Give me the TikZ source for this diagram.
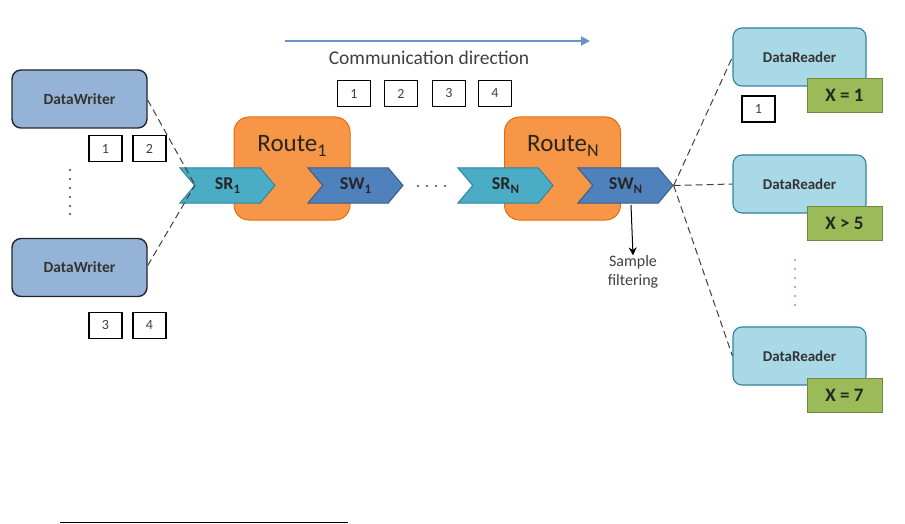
\documentclass[tikz,border=0pt]{standalone}
\usepackage{fontspec}
\setmainfont{Carlito}
\usetikzlibrary{shapes.symbols,arrows.meta}
\definecolor{dwfill}{HTML}{95B3D7}
\definecolor{srfill}{HTML}{4BACC6}
\definecolor{srline}{HTML}{31849B}
\definecolor{swfill}{HTML}{4F81BD}
\definecolor{swline}{HTML}{385D8A}
\definecolor{rtfill}{HTML}{F79646}
\definecolor{rtline}{HTML}{E46C0A}
\definecolor{drfill}{HTML}{A9D8E6}
\definecolor{drline}{HTML}{31849B}
\definecolor{gnfill}{HTML}{9BBB59}
\definecolor{gnline}{HTML}{71893F}
\definecolor{txt}{HTML}{404040}
\newcommand\mysub[1]{\raisebox{-0.4ex}{\scalebox{0.72}{#1}}}
\begin{document}
\begin{tikzpicture}[x=1pt,y=-1pt,
  writer/.style={draw=black!85,line width=1.4pt,fill=dwfill,rounded corners=9pt,minimum width=135pt,minimum height=58pt,font=\fontsize{15.5}{17}\selectfont\bfseries,text=black!80,inner sep=0pt},
  reader/.style={draw=drline,line width=1.1pt,fill=drfill,rounded corners=9pt,minimum width=133pt,minimum height=58pt,font=\fontsize{15}{17}\selectfont\bfseries,text=black!80,inner sep=0pt},
  filt/.style={draw=gnline,line width=1pt,fill=gnfill,minimum width=75pt,minimum height=34pt,font=\fontsize{19}{21}\selectfont\bfseries,text=black!85,inner sep=0pt},
  sample/.style={draw=black,line width=1.3pt,fill=white,minimum width=33pt,minimum height=26pt,font=\fontsize{14}{16}\selectfont,text=txt,inner sep=0pt},
  route/.style={draw=rtline,line width=1pt,fill=rtfill,rounded corners=15pt,minimum width=116pt,minimum height=103pt,inner sep=0pt},
  chev/.style={signal,signal to=east,signal from=west,signal pointer angle=100,minimum width=95pt,minimum height=35pt,inner sep=0pt,line width=1pt,font=\fontsize{18}{20}\selectfont\bfseries,text=black!85},
  srch/.style={chev,draw=srline,fill=srfill},
  swch/.style={chev,draw=swline,fill=swfill},
  link/.style={dashed,dash pattern=on 7pt off 4pt,line width=1pt,draw=black!75},
  dot/.style={fill=txt,circle,inner sep=0pt,minimum size=2.2pt}
]
\useasboundingbox (0,0) rectangle (905,524);

% writers
\node[writer] (dw1) at (79.5,99) {DataWriter};
\node[writer] (dw2) at (79.5,267.5) {DataWriter};
\node[sample] (a1) at (105.5,148.5) {1};
\node[sample] (a2) at (149.5,148.5) {2};
\node[sample] (a3) at (105.5,325.5) {3};
\node[sample] (a4) at (149.5,325.5) {4};
\foreach \yy [count=\i] in {170,179,188,197,206,214} \node[dot] (ld\i) at (70,\yy) {};

% routes
\node[route] (r1) at (292,168.5) {};
\node[route] (rn) at (562.5,168.5) {};
\node[font=\fontsize{25}{27}\selectfont,text=black!85] (r1t) at (292,146) {Route\mysub{1}};
\node[font=\fontsize{25}{27}\selectfont,text=black!85] (rnt) at (563,146) {Route\mysub{N}};
\node[srch] (sr1) at (227.5,185.5) {SR\mysub{1}};
\node[swch] (sw1) at (355.5,185.5) {SW\mysub{1}};
\node[srch] (srn) at (505.5,185.5) {SR\mysub{N}};
\node[swch] (swn) at (625.5,185.5) {SW\mysub{N}};
\foreach \xx [count=\i] in {418,427,436,445} \node[dot] (md\i) at (\xx,186) {};

% direction
\coordinate (ca) at (285,41);
\coordinate (cb) at (590,41);
\draw[draw=swfill!85,line width=2.2pt,-{Triangle[length=9pt,width=9pt]}] (ca) -- (cb);
\node[font=\fontsize{19.5}{21}\selectfont,text=txt] (ct) at (429,58) {Communication direction};
\node[sample] (b1) at (354,93.5) {1};
\node[sample] (b2) at (401,93.5) {2};
\node[sample] (b3) at (449,93.5) {3};
\node[sample] (b4) at (495,93.5) {4};

% readers
\node[reader] (dr1) at (799.5,57) {DataReader};
\node[reader] (dr2) at (799.5,184) {DataReader};
\node[reader] (dr3) at (799.5,356) {DataReader};
\node[filt] (f1) at (844.5,95.5) {X = 1};
\node[filt] (f2) at (844.5,223.5) {X > 5};
\node[filt] (f3) at (844.5,395) {X = 7};
\node[sample] (c1) at (758.5,109) {1};
\foreach \yy [count=\i] in {260,269,278,287,296,305} \node[dot,fill=srline!70] (rd\i) at (795,\yy) {};

% links
\coordinate (n1) at (195,185);
\draw[link] (dw1.east) ++(0,1) coordinate (w1) (w1) -- (n1);
\draw[link] (dw2.east) ++(0,-2) coordinate (w2) (w2) -- (n1);
\coordinate (tip) at (swn.east);
\draw[link] (tip) -- (dr1.west);
\draw[link] (tip) -- (dr2.west);
\draw[link] (tip) -- (dr3.west);

% sample filtering
\coordinate (sf0) at (631,205);
\node[font=\fontsize{16}{19}\selectfont,text=txt,align=center,inner sep=0pt] (sf) at (633,272) {Sample\\filtering};
\draw[line width=1pt,-{Stealth[length=8pt,width=8pt]}] (sf0) -- (sf.north);

% footnote rule
\coordinate (fl) at (60,522);
\coordinate (fr) at (348,522);
\draw[line width=1pt] (fl) -- (fr);
\end{tikzpicture}
\end{document}
